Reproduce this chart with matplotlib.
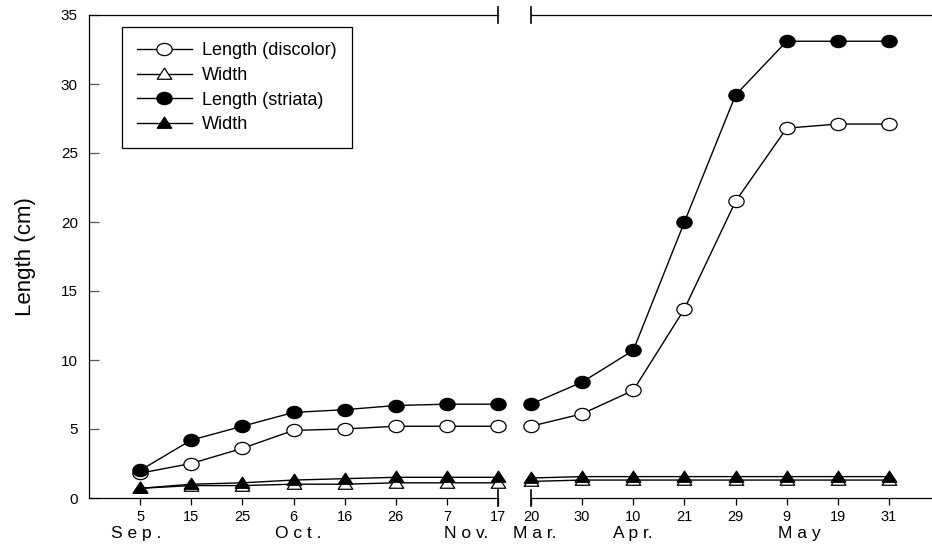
import matplotlib
matplotlib.use("Agg")
import matplotlib.pyplot as plt
from matplotlib.path import Path
from matplotlib.transforms import Affine2D
import numpy as np

plt.rcParams['font.family'] = ['Liberation Sans', 'DejaVu Sans']

# sampling dates, autumn and spring
autumn_days = ["5", "15", "25", "6", "16", "26", "7", "17"]
spring_days = ["20", "30", "10", "21", "29", "9", "19", "31"]

# (label, x position in tick units)
autumn_months = [("S e p .", -0.08), ("O c t .", 3.1), ("N o v.", 6.37)]
spring_months = [("M a r.", 0.08), ("A p r.", 2.0), ("M a y", 5.25)]

# discolor
len_discolor_autumn = [1.8, 2.5, 3.6, 4.9, 5.0, 5.2, 5.2, 5.2]
len_discolor_spring = [5.2, 6.1, 7.8, 13.7, 21.5, 26.8, 27.1, 27.1]
wid_discolor_autumn = [0.7, 0.9, 0.9, 1.0, 1.0, 1.1, 1.1, 1.1]
wid_discolor_spring = [1.2, 1.3, 1.3, 1.3, 1.3, 1.3, 1.3, 1.3]

# striata
len_striata_autumn = [2.0, 4.2, 5.2, 6.2, 6.4, 6.7, 6.8, 6.8]
len_striata_spring = [6.8, 8.4, 10.7, 20.0, 29.2, 33.1, 33.1, 33.1]
wid_striata_autumn = [0.7, 1.0, 1.1, 1.3, 1.4, 1.5, 1.5, 1.5]
wid_striata_spring = [1.45, 1.55, 1.55, 1.55, 1.55, 1.55, 1.55, 1.55]

# slightly squashed marker shapes
ellipse = Path.unit_circle().transformed(Affine2D().scale(1.25, 1.0))
tri = Path([(0, 1), (-1.15, -0.75), (1.15, -0.75), (0, 1)],
           [Path.MOVETO, Path.LINETO, Path.LINETO, Path.CLOSEPOLY])

styles = [
    dict(marker=ellipse, mfc='white', ms=11, label='Length (discolor)'),
    dict(marker=tri, mfc='white', ms=10.5, label='Width'),
    dict(marker=ellipse, mfc='black', ms=11, label='Length (striata)'),
    dict(marker=tri, mfc='black', ms=10.5, label='Width'),
]
autumn = [len_discolor_autumn, wid_discolor_autumn, len_striata_autumn, wid_striata_autumn]
spring = [len_discolor_spring, wid_discolor_spring, len_striata_spring, wid_striata_spring]

fig = plt.figure(figsize=(9.32, 5.46), dpi=100)
W, H = 932, 546
bottom = 1 - 498 / H
height = (498 - 15) / H
ax1 = fig.add_axes([89 / W, bottom, (498 - 89) / W, height])
ax2 = fig.add_axes([531 / W, bottom, (932 - 531) / W, height])

x = np.arange(8)
for ax, groups in ((ax1, autumn), (ax2, spring)):
    for vals, st in zip(groups, styles):
        ax.plot(x, vals, color='black', lw=1.0, mec='black', mew=0.9,
                clip_on=False, **st)
    ax.set_ylim(0, 35)
    for s in ax.spines.values():
        s.set_linewidth(0.9)
    ax.tick_params(axis='x', direction='out', length=5, width=0.9,
                   labelsize=10.5, pad=3.5)

ax1.set_xlim(-1, 7)
ax2.set_xlim(0, (932 - 531) / ((889 - 531) / 7))
ax1.set_xticks(x)
ax1.set_xticklabels(autumn_days)
ax2.set_xticks(x)
ax2.set_xticklabels(spring_days)

ax1.spines['right'].set_visible(False)
ax2.spines['left'].set_visible(False)
ax2.spines['right'].set_visible(False)
ax2.tick_params(axis='y', left=False, labelleft=False)

ax1.set_yticks(np.arange(0, 36, 5))
ax1.tick_params(axis='y', direction='in', length=7, width=0.9,
                labelsize=11, pad=8, color='#555555')
ax1.set_ylabel('Length (cm)', fontsize=16, labelpad=18)

# break marks at the gap
for ax, xb in ((ax1, 7), (ax2, 0)):
    for y0, y1 in ((-0.017, 0.017), (0.983, 1.017)):
        ax.axvline(xb, ymin=y0, ymax=y1, color='black', lw=1.2, clip_on=False)

# month names under the day ticks
for ax, months in ((ax1, autumn_months), (ax2, spring_months)):
    for name, xm in months:
        ax.text(xm, -0.058, name, transform=ax.get_xaxis_transform(),
                ha='center', va='top', fontsize=12.5)

leg = ax1.legend(loc='upper left', bbox_to_anchor=(122 / W, 1 - 27 / H),
                 bbox_transform=fig.transFigure, fancybox=False,
                 edgecolor='black', framealpha=1, fontsize=13,
                 handlelength=3.0, labelspacing=0.42, borderpad=0.85,
                 handletextpad=0.6, borderaxespad=0)
leg.get_frame().set_linewidth(0.9)

fig.savefig('out.png', dpi=100)
